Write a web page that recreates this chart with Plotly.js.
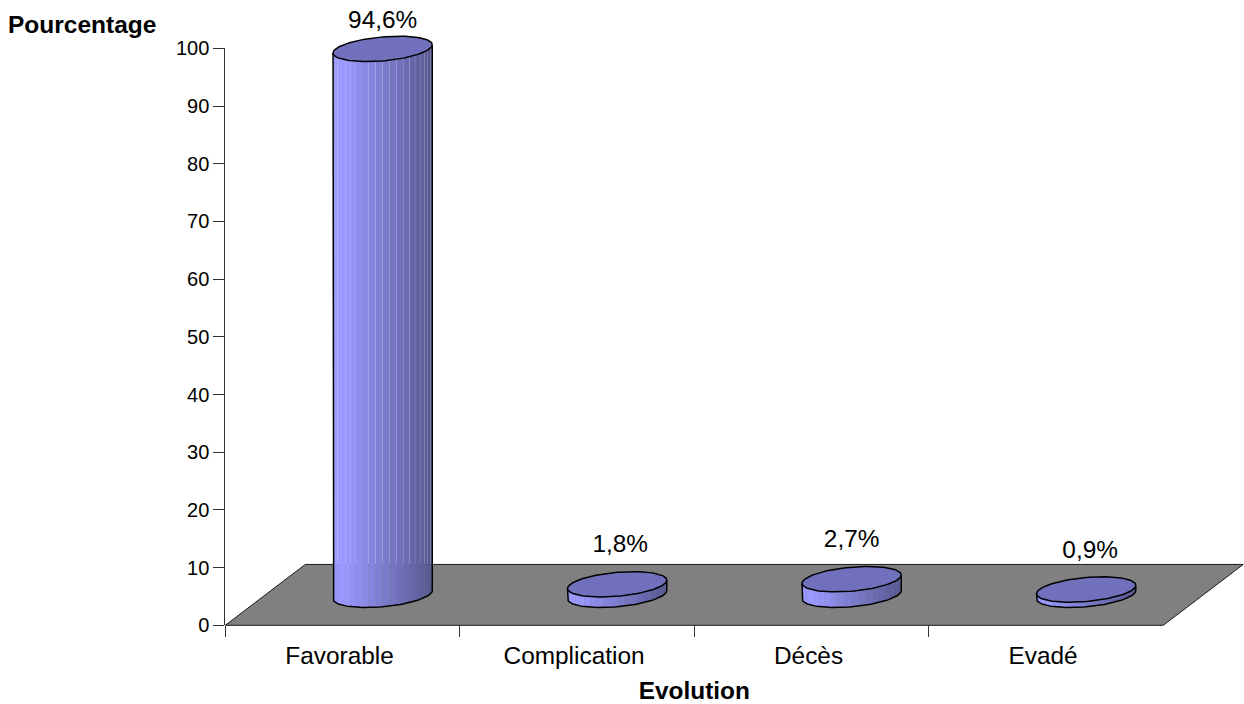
<!DOCTYPE html>
<html>
<head>
<meta charset="utf-8">
<script src="https://cdn.plot.ly/plotly-3.0.1.min.js"></script>
<style>html,body{margin:0;padding:0;background:#fff}#chart{width:1244px;height:704px}</style>
</head>
<body>
<div id="chart"></div>
<script>
// Outcome distribution, in percent
const categories = ['Favorable', 'Complication', 'Décès', 'Evadé'];
const percentages = [94.6, 1.8, 2.7, 0.9];
const percentLabels = ['94,6%', '1,8%', '2,7%', '0,9%'];
const yTicks = [0, 10, 20, 30, 40, 50, 60, 70, 80, 90, 100];

// Page geometry of the visible axes box
const W = 1244, H = 704;
const boxLeft = 225.3, boxRight = 1163.3, boxTop = 48.3, boxBottom = 625.3;
const pxPerCategory = (boxRight - boxLeft) / 4;
const pxPerPercent = (boxBottom - boxTop) / 100;

// Fake-3D projection, expressed in axis units
const floorDepthX = 0.341;    // horizontal shift of the floor's back edge (category units)
const floorDepthY = 10.55;    // vertical shift of the floor's back edge (percent units)
const depthX = 0.171;         // cylinders stand halfway back on the floor
const baseY = 5.3;
const radiusX = 0.2115;
const radiusY = 2.08;
const tilt = 0.73;
const stripCount = 22;

const FONT = 'Liberation Sans, Arial, sans-serif';

function ellipsePoint(cx, cy, t) {
  return [cx + radiusX * Math.cos(t), cy + tilt * Math.cos(t) - radiusY * Math.sin(t)];
}

function sideColor(p) {
  const k = Math.max(0, (p - 0.12) / 0.88);
  const r = Math.round(153 - 66 * k), b = Math.round(255 - 110 * k);
  return `rgb(${r},${r},${b})`;
}

// Marks live on a full-page pair of hidden axes sharing the visible axes' scale,
// so the floor and the tallest cylinder can run past the axes box.
const base = {xaxis: 'x2', yaxis: 'y2', hoverinfo: 'skip', showlegend: false};
const traces = [];

// Invisible carrier for the visible axes
traces.push({x: categories, y: percentages, mode: 'none', type: 'scatter',
  hoverinfo: 'skip', showlegend: false});

// Grey floor
traces.push(Object.assign({}, base, {
  type: 'scatter', mode: 'lines', fill: 'toself', fillcolor: '#808080',
  x: [-0.5, -0.5 + floorDepthX, 3.5 + floorDepthX, 3.5, -0.5],
  y: [0, floorDepthY, floorDepthY, 0, 0],
  line: {color: '#1a1a1a', width: 1}
}));

percentages.forEach((value, i) => {
  const cx = i + depthX, top = baseY + value;

  // Shaded side, one polygon per facet
  for (let s = 0; s < stripCount; s++) {
    const t0 = Math.PI * (1 - s / stripCount), t1 = Math.PI * (1 - (s + 1) / stripCount);
    const b0 = ellipsePoint(cx, baseY, t0), b1 = ellipsePoint(cx, baseY, t1);
    const u0 = ellipsePoint(cx, top, t0), u1 = ellipsePoint(cx, top, t1);
    const mid = ((b0[0] + b1[0]) / 2 - (cx - radiusX)) / (2 * radiusX);
    traces.push(Object.assign({}, base, {
      type: 'scatter', mode: 'lines', fill: 'toself', fillcolor: sideColor(mid),
      line: {width: 0},
      x: [b0[0], b1[0], u1[0], u0[0], b0[0]],
      y: [b0[1], b1[1], u1[1], u0[1], b0[1]]
    }));
  }

  // Side outline: left edge, front of the base, right edge
  const ox = [], oy = [];
  for (let k = 0; k <= 60; k++) {
    const p = ellipsePoint(cx, baseY, Math.PI * (1 - k / 60));
    ox.push(p[0]); oy.push(p[1]);
  }
  const lastTop = ellipsePoint(cx, top, 0), firstTop = ellipsePoint(cx, top, Math.PI);
  traces.push(Object.assign({}, base, {
    type: 'scatter', mode: 'lines',
    x: [firstTop[0], ...ox, lastTop[0]],
    y: [firstTop[1], ...oy, lastTop[1]],
    line: {color: '#000', width: 1.5}
  }));

  // Top face
  const ex = [], ey = [];
  for (let k = 0; k <= 120; k++) {
    const p = ellipsePoint(cx, top, 2 * Math.PI * k / 120);
    ex.push(p[0]); ey.push(p[1]);
  }
  traces.push(Object.assign({}, base, {
    type: 'scatter', mode: 'lines', fill: 'toself', fillcolor: '#7070BC',
    x: ex, y: ey, line: {color: '#000', width: 1.5}
  }));
});

// Value labels above each cylinder, held inside the page at the top
const labelNudge = [0, 0.013, 0, 0.017];
traces.push(Object.assign({}, base, {
  type: 'scatter', mode: 'text',
  x: percentages.map((v, i) => i + depthX + labelNudge[i]),
  y: percentages.map(v => Math.min(baseY + v + 6.6, 104.6)),
  text: percentLabels,
  textposition: 'middle center',
  textfont: {family: FONT, size: 24.4, color: '#000'}
}));

const layout = {
  width: W, height: H,
  margin: {l: 0, r: 0, t: 0, b: 0, pad: 0},
  paper_bgcolor: '#fff', plot_bgcolor: 'rgba(0,0,0,0)',
  showlegend: false,
  font: {family: FONT, color: '#000'},
  xaxis: {
    domain: [boxLeft / W, boxRight / W], anchor: 'y',
    type: 'category', categoryorder: 'array', categoryarray: categories,
    range: [-0.5, 3.5], tickson: 'boundaries',
    ticks: 'outside', ticklen: 11, tickwidth: 1, tickcolor: '#333',
    showline: false, showgrid: false, zeroline: false,
    tickfont: {family: FONT, size: 24.4, color: '#000'},
    ticklabelstandoff: 13, ticklabelshift: -3,
    title: {text: '<b>Evolution</b>', font: {family: FONT, size: 24.4, color: '#000'}, standoff: 18},
    fixedrange: true
  },
  yaxis: {
    domain: [1 - boxBottom / H, 1 - boxTop / H], anchor: 'x',
    range: [0, 100], tickmode: 'array', tickvals: yTicks,
    ticks: 'outside', ticklen: 11, tickwidth: 1, tickcolor: '#333',
    showline: true, linecolor: '#333', linewidth: 1,
    showgrid: false, zeroline: false,
    tickfont: {family: FONT, size: 20, color: '#000'},
    fixedrange: true
  },
  xaxis2: {
    domain: [0, 1], anchor: 'y2', type: 'linear', visible: false, fixedrange: true,
    range: [-0.5 - boxLeft / pxPerCategory, -0.5 + (W - boxLeft) / pxPerCategory]
  },
  yaxis2: {
    domain: [0, 1], anchor: 'x2', type: 'linear', visible: false, fixedrange: true,
    range: [-(H - boxBottom) / pxPerPercent, boxBottom / pxPerPercent]
  },
  annotations: [{
    text: '<b>Pourcentage</b>', xref: 'paper', yref: 'paper', showarrow: false,
    x: 157.5 / W, y: 1 - 24.5 / H, xanchor: 'right', yanchor: 'middle',
    font: {family: FONT, size: 24.5, color: '#000'}
  }]
};

Plotly.newPlot('chart', traces, layout, {displayModeBar: false, staticPlot: true});
</script>
</body>
</html>
